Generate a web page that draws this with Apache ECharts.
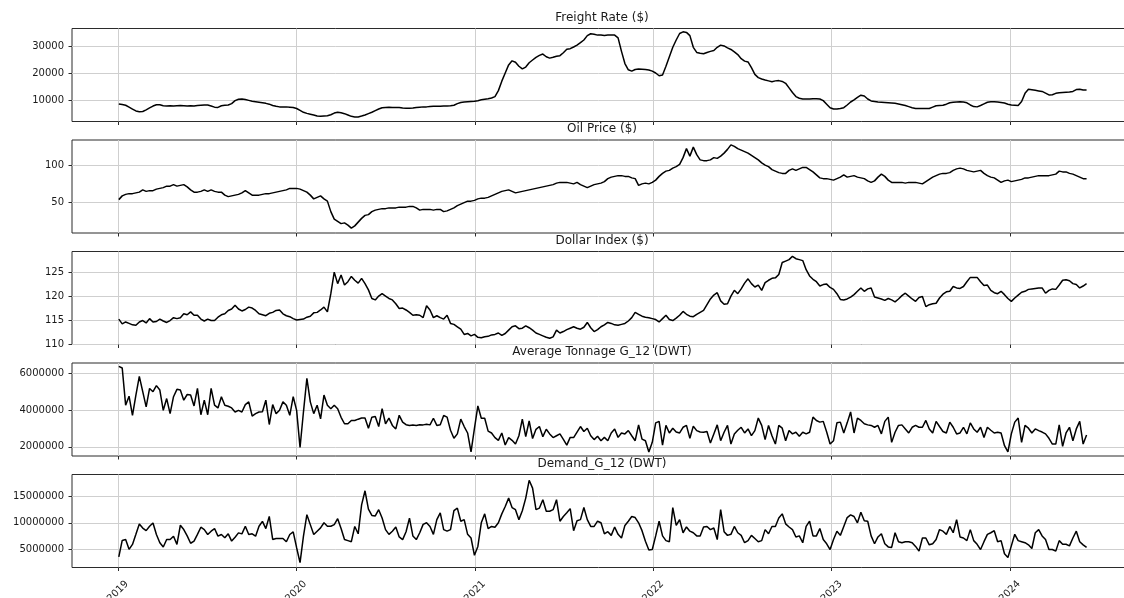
<!DOCTYPE html>
<html><head><meta charset="utf-8">
<script src="https://cdn.jsdelivr.net/npm/echarts@6/dist/echarts.min.js"></script>
<style>html,body{margin:0;padding:0;background:#fff}#c{width:1124px;height:598px}</style>
</head><body><div id="c"></div>
<script>
// weekly observations starting 2019-01-03
const START = Date.UTC(2019, 0, 3);
const WEEK = 7 * 86400000;
const N = 284;
const dates = [];
for (let i = 0; i < N; i++) dates.push(START + i * WEEK);

const titles = ['Freight Rate ($)', 'Oil Price ($)', 'Dollar Index ($)', 'Average Tonnage G_12 (DWT)', 'Demand_G_12 (DWT)'];

const freight = [8600,8400,8100,7400,6700,6000,5700,5800,6400,7100,
7800,8300,8300,7900,7800,7900,7800,7900,8000,7900,
7800,7900,7800,8000,8100,8200,8200,7800,7400,7300,
7900,8100,8200,8700,9800,10300,10400,10200,9900,9600,
9400,9200,9000,8800,8500,8000,7700,7500,7500,7500,
7400,7300,6900,6200,5500,5100,4800,4500,4100,4000,
4100,4200,4600,5200,5500,5300,5000,4500,4000,3800,
3800,4100,4500,5000,5500,6100,6700,7200,7300,7400,
7300,7300,7300,7100,7000,7000,7100,7300,7400,7500,
7500,7600,7700,7700,7700,7800,7800,7900,8100,8700,
9100,9300,9400,9500,9600,9800,10100,10300,10500,10800,
11300,13500,17000,20000,23000,24500,24000,22500,21500,22200,
23800,24800,25800,26500,27000,26000,25500,25800,26200,26400,
27500,28800,29000,29600,30300,31200,32200,33800,34500,34300,
34000,34000,33900,34000,34000,34000,33000,28000,23500,21200,
20700,21300,21500,21400,21300,21100,20700,20000,19000,19300,
22500,26000,29500,32200,34600,35200,35000,33800,29500,27600,
27300,27100,27600,28000,28300,29500,30300,30000,29300,28700,
27800,26800,25300,24400,24100,22000,19500,18300,17800,17400,
17100,16800,17100,17200,16900,16200,14500,12800,11300,10700,
10400,10400,10400,10500,10500,10400,9800,8500,7200,6700,
6700,6900,7200,8200,9300,10100,11000,11800,11500,10400,
9700,9500,9300,9200,9100,9000,8900,8800,8600,8300,
8000,7600,7200,6900,6900,6900,6900,6900,7400,7900,
8000,8100,8500,9000,9200,9300,9400,9300,9000,8200,
7600,7500,8000,8600,9200,9400,9400,9300,9100,8900,
8500,8200,8100,8000,9500,12500,14000,13800,13600,13400,
13200,12600,11900,12000,12500,12700,12800,12900,13000,13200,
13900,14000,13700,13700];

const oil = [54,59,61,62,62,63,64,67,65,66,
66,68,69,70,72,72,74,72,73,74,
71,67,64,64,65,67,65,67,65,64,
64,60,58,59,60,61,63,66,63,60,
60,60,61,62,62,63,64,65,66,67,
69,69,69,68,66,64,60,55,57,59,
55,52,38,28,25,22,23,20,16,19,
24,29,33,34,38,40,41,42,42,43,
43,43,44,44,44,45,45,43,40,41,
41,41,40,41,41,38,39,41,43,46,
48,50,52,52,53,55,56,56,57,59,
61,63,65,66,67,65,63,64,65,66,
67,68,69,70,71,72,73,74,76,77,
77,77,76,75,77,74,72,70,72,74,
75,76,78,82,84,85,86,86,85,85,
83,82,73,75,76,75,77,80,85,89,
92,93,96,98,101,110,122,112,124,114,
107,106,106,107,110,109,112,116,121,127,
125,122,120,118,116,113,110,107,103,100,
98,94,92,90,89,89,93,95,93,95,
97,97,94,91,87,83,82,82,81,80,
82,84,87,84,85,86,84,83,82,79,
77,79,84,88,85,80,77,77,77,77,
76,77,77,77,76,75,78,81,84,86,
88,89,89,90,93,95,96,95,93,92,
91,92,93,89,86,84,83,80,77,79,
80,78,79,80,81,83,83,84,85,86,
86,86,86,87,88,92,91,91,89,88,
86,84,82,82];

const dollar = [115.2,114.2,114.6,114.3,114.0,113.9,114.6,114.9,114.4,115.3,
114.6,114.7,115.2,114.8,114.5,114.9,115.5,115.3,115.5,116.3,
116.1,116.7,116.0,116.0,115.2,114.8,115.2,114.9,114.9,115.6,
116.1,116.3,117.0,117.3,118.1,117.3,116.9,117.2,117.7,117.5,
117.0,116.3,116.1,115.9,116.4,116.6,117.0,117.1,116.3,115.9,
115.7,115.3,115.0,115.1,115.2,115.6,115.8,116.5,116.6,117.1,
117.7,116.7,120.5,125.0,122.6,124.4,122.3,123.0,124.1,123.3,
122.7,123.7,122.6,121.3,119.5,119.2,120.0,120.5,120.0,119.5,
119.2,118.4,117.4,117.5,117.1,116.6,116.0,116.1,116.0,115.5,
118.0,117.1,115.5,115.9,115.5,115.2,116.0,114.3,114.1,113.6,
113.1,112.0,112.2,111.7,112.0,111.4,111.3,111.5,111.6,111.9,
112.0,112.3,111.8,112.2,112.9,113.6,113.8,113.2,113.3,113.8,
113.4,112.9,112.3,112.0,111.7,111.4,111.2,111.5,112.9,112.3,
112.6,113.0,113.3,113.6,113.3,113.1,113.5,114.5,113.4,112.6,
113.0,113.6,114.0,114.5,114.3,114.0,113.9,114.1,114.3,114.8,
115.5,116.6,116.2,115.8,115.6,115.5,115.3,115.1,114.6,115.3,
116.0,115.1,114.9,115.4,116.0,116.8,116.2,115.8,115.7,116.2,
116.6,117.0,118.2,119.4,120.2,120.7,119.0,118.3,118.4,120.0,
121.2,120.5,121.5,122.7,123.6,122.6,121.9,122.3,121.2,122.8,
123.3,123.7,123.8,124.5,127.0,127.3,127.6,128.3,127.8,127.6,
127.4,125.5,124.2,123.5,123.0,122.1,122.4,122.5,121.8,121.4,
120.5,119.3,119.2,119.4,119.8,120.3,121.0,121.7,121.0,121.5,
121.7,119.8,119.6,119.4,119.1,119.5,119.2,118.8,119.4,120.1,
120.6,120.0,119.4,118.9,119.7,119.9,117.8,118.2,118.4,118.5,
119.6,120.4,120.9,121.0,122.0,121.7,121.6,122.0,123.0,123.9,
123.9,123.9,123.0,122.2,122.3,121.2,120.7,120.5,121.0,120.3,
119.5,118.9,119.6,120.2,120.8,121.0,121.4,121.5,121.6,121.7,
121.7,120.6,121.2,121.5,121.4,122.3,123.3,123.4,123.2,122.6,
122.4,121.7,122.1,122.6];

const tonnage = [6.37e6,6.28e6,4.26e6,4.75e6,3.71e6,4.8e6,5.82e6,5.0e6,4.17e6,5.17e6,
4.99e6,5.32e6,5.08e6,3.98e6,4.62e6,3.8e6,4.72e6,5.12e6,5.08e6,4.53e6,
4.84e6,4.81e6,4.22e6,5.17e6,3.74e6,4.53e6,3.74e6,5.17e6,4.26e6,4.11e6,
4.72e6,4.26e6,4.2e6,4.11e6,3.89e6,3.98e6,3.89e6,4.29e6,4.44e6,3.67e6,
3.8e6,3.89e6,3.9e6,4.53e6,3.21e6,4.29e6,3.8e6,3.98e6,4.44e6,4.26e6,
3.71e6,4.72e6,3.98e6,1.96e6,3.9e6,5.72e6,4.44e6,3.8e6,4.26e6,3.52e6,
4.81e6,4.26e6,4.07e6,4.26e6,4.07e6,3.6e6,3.25e6,3.25e6,3.43e6,3.43e6,
3.5e6,3.56e6,3.56e6,3.01e6,3.61e6,3.65e6,3.1e6,4.07e6,3.25e6,3.56e6,
3.16e6,2.97e6,3.71e6,3.34e6,3.2e6,3.16e6,3.18e6,3.16e6,3.2e6,3.19e6,
3.22e6,3.19e6,3.55e6,3.16e6,3.2e6,3.7e6,3.61e6,2.9e6,2.46e6,2.7e6,
3.5e6,3.1e6,2.75e6,1.72e6,3.0e6,4.22e6,3.55e6,3.55e6,2.85e6,2.75e6,
2.5e6,2.35e6,2.75e6,2.1e6,2.5e6,2.35e6,2.15e6,2.6e6,3.5e6,2.55e6,
3.4e6,2.45e6,2.95e6,3.1e6,2.55e6,2.95e6,2.7e6,2.5e6,2.6e6,2.7e6,
2.4e6,2.09e6,2.51e6,2.5e6,2.8e6,3.1e6,2.83e6,3.01e6,2.6e6,2.39e6,
2.57e6,2.33e6,2.51e6,2.33e6,2.75e6,2.97e6,2.51e6,2.75e6,2.7e6,2.88e6,
2.6e6,2.33e6,3.19e6,2.42e6,2.33e6,1.72e6,2.24e6,3.3e6,3.38e6,2.09e6,
3.16e6,2.75e6,3.01e6,2.8e6,2.75e6,3.06e6,3.16e6,2.46e6,3.12e6,2.88e6,
2.8e6,2.79e6,2.83e6,2.2e6,2.7e6,3.19e6,2.33e6,2.79e6,3.16e6,2.15e6,
2.7e6,2.9e6,3.06e6,2.75e6,2.97e6,2.61e6,2.88e6,3.56e6,3.16e6,2.39e6,
3.16e6,2.6e6,2.15e6,3.16e6,3.01e6,2.33e6,2.88e6,2.7e6,2.79e6,2.57e6,
2.79e6,2.7e6,2.79e6,3.61e6,3.43e6,3.34e6,3.38e6,2.8e6,2.15e6,2.33e6,
3.3e6,3.34e6,2.75e6,3.3e6,3.89e6,2.75e6,3.56e6,3.43e6,3.25e6,3.19e6,
3.16e6,3.06e6,3.16e6,2.7e6,3.38e6,3.61e6,2.24e6,2.79e6,3.16e6,3.19e6,
2.97e6,2.75e6,3.06e6,3.16e6,3.06e6,3.06e6,3.43e6,2.97e6,2.75e6,3.38e6,
3.1e6,2.83e6,2.75e6,3.34e6,3.06e6,2.7e6,2.75e6,3.06e6,2.7e6,3.3e6,
2.97e6,2.79e6,3.06e6,2.51e6,3.06e6,2.9e6,2.75e6,2.79e6,2.75e6,2.06e6,
1.72e6,2.7e6,3.34e6,3.56e6,2.24e6,3.16e6,3.01e6,2.75e6,2.97e6,2.88e6,
2.8e6,2.7e6,2.46e6,2.15e6,2.15e6,3.19e6,2.02e6,2.75e6,3.06e6,2.33e6,
2.97e6,3.38e6,2.15e6,2.64e6];

const demand = [3.49e6,6.64e6,6.82e6,4.94e6,5.88e6,7.8e6,9.78e6,9.0e6,8.5e6,9.34e6,
9.97e6,7.77e6,6.19e6,5.38e6,6.82e6,6.82e6,7.45e6,5.88e6,9.53e6,8.71e6,
7.5e6,6.1e6,6.51e6,7.8e6,9.15e6,8.71e6,7.77e6,8.4e6,8.9e6,7.45e6,
7.77e6,7.14e6,7.89e6,6.51e6,7.26e6,8.08e6,7.89e6,9.34e6,7.77e6,7.89e6,
7.45e6,9.34e6,10.28e6,8.9e6,11.23e6,6.82e6,7.01e6,7.01e6,7.01e6,6.38e6,
7.77e6,8.27e6,5.25e6,2.42e6,7.45e6,11.54e6,9.65e6,7.77e6,8.4e6,9.03e6,
10.0e6,9.34e6,9.34e6,9.65e6,10.79e6,8.9e6,6.8e6,6.6e6,6.4e6,9.3e6,
7.9e6,13.4e6,16.1e6,12.6e6,11.4e6,11.3e6,12.5e6,10.9e6,8.7e6,7.8e6,
8.4e6,9.2e6,7.3e6,6.8e6,8.3e6,10.9e6,7.5e6,6.8e6,8.1e6,9.7e6,
10.0e6,9.3e6,7.8e6,10.6e6,11.9e6,8.7e6,8.4e6,8.7e6,12.3e6,12.8e6,
10.3e6,10.6e6,7.8e6,7.1e6,3.8e6,5.5e6,10.0e6,11.7e6,8.9e6,9.3e6,
9.15e6,10.0e6,11.7e6,13.1e6,14.7e6,12.9e6,12.5e6,10.6e6,12.3e6,14.7e6,
18.1e6,16.6e6,12.5e6,12.8e6,14.4e6,12.2e6,12.2e6,12.5e6,14.4e6,10.3e6,
11.2e6,11.9e6,12.7e6,8.5e6,10.4e6,10.6e6,12.9e6,10.6e6,9.3e6,9.3e6,
10.3e6,10.0e6,7.9e6,8.3e6,7.6e6,9.2e6,7.8e6,7.1e6,9.5e6,10.3e6,
11.2e6,11.0e6,10.0e6,8.5e6,6.5e6,4.8e6,4.9e6,7.5e6,10.3e6,7.5e6,
6.6e6,6.4e6,12.9e6,9.5e6,10.6e6,8.1e6,9.2e6,8.4e6,8.1e6,7.5e6,
7.5e6,9.2e6,9.3e6,8.7e6,9.0e6,6.8e6,12.5e6,8.3e6,7.6e6,7.8e6,
9.3e6,8.1e6,7.6e6,6.2e6,6.6e6,7.6e6,7.0e6,6.4e6,6.6e6,8.7e6,
7.9e6,9.3e6,9.3e6,10.9e6,11.7e6,9.8e6,9.2e6,8.7e6,7.3e6,7.5e6,
6.2e6,9.3e6,10.3e6,7.5e6,7.5e6,8.9e6,6.8e6,6.0e6,4.9e6,6.8e6,
8.4e6,7.6e6,9.3e6,11.0e6,11.5e6,11.2e6,10.0e6,12.0e6,10.4e6,10.3e6,
7.5e6,6.0e6,7.3e6,7.9e6,6.0e6,5.4e6,5.3e6,8.1e6,6.4e6,6.2e6,
6.4e6,6.4e6,6.2e6,5.5e6,4.6e6,7.1e6,7.1e6,5.8e6,6.0e6,6.8e6,
8.7e6,8.4e6,7.8e6,9.3e6,8.1e6,10.6e6,7.3e6,7.1e6,6.6e6,8.7e6,
6.6e6,5.9e6,4.9e6,6.4e6,7.8e6,8.1e6,8.5e6,6.4e6,6.6e6,4.1e6,
3.4e6,5.6e6,7.8e6,6.6e6,6.4e6,6.2e6,5.8e6,5.1e6,8.1e6,8.7e6,
7.5e6,6.8e6,4.9e6,4.9e6,4.6e6,6.6e6,5.9e6,5.9e6,5.6e6,7.1e6,
8.4e6,6.4e6,5.8e6,5.3e6];

// tick values
const yearTicks = [2019, 2020, 2021, 2022, 2023, 2024].map(y => Date.UTC(y, 0, 1));
const freightTicks = [10000, 20000, 30000];
const oilTicks = [50, 100];
const dollarTicks = [110, 115, 120, 125];
const tonnageTicks = [2000000, 4000000, 6000000];
const demandTicks = [5000000, 10000000, 15000000];

const seriesValues = [freight, oil, dollar, tonnage, demand];
const yTicks = [freightTicks, oilTicks, dollarTicks, tonnageTicks, demandTicks];
const yRanges = [[2100, 36440], [9.5, 133.5], [109.9, 129.3], [1.5e6, 6.55e6], [1.48e6, 19.2e6]];

// layout
const DAY = 86400000;
const Y0 = Date.UTC(2019, 0, 1);
const XMIN = Y0 - 93.8 * DAY;
const XMAX = Y0 + 2076 * DAY;
const GRID_LEFT = 72, GRID_W = 1060, GRID_H = 93;
const tops = [28.5, 140, 251.5, 363, 474.5];
const FONT = 'DejaVu Sans';
const TXT = '#1a1a1a';
const GRIDC = '#cfcfcf';
const FRAME = '#2b2b2b';

const grids = [], xAxes = [], yAxes = [], series = [], graphics = [];
for (let k = 0; k < 5; k++) {
  grids.push({left: GRID_LEFT, top: tops[k], width: GRID_W, height: GRID_H,
    outerBoundsMode: 'none', containLabel: false,
    show: true, borderColor: FRAME, borderWidth: 1, backgroundColor: 'transparent'});
  xAxes.push({
    type: 'value', gridIndex: k, min: XMIN, max: XMAX,
    axisLine: {show: false},
    axisTick: {show: true, customValues: yearTicks, length: 3.5, lineStyle: {color: FRAME}},
    axisLabel: {show: k === 4, customValues: yearTicks,
      formatter: v => String(new Date(v).getUTCFullYear()),
      rotate: 45, align: 'center', verticalAlign: 'middle', margin: 24,
      fontFamily: FONT, fontSize: 10, color: TXT},
    splitLine: {show: true, lineStyle: {color: GRIDC, width: 1}}
  });
  yAxes.push({
    type: 'value', gridIndex: k, min: yRanges[k][0], max: yRanges[k][1],
    axisLine: {show: false},
    axisTick: {show: true, customValues: yTicks[k], length: 3.5, lineStyle: {color: FRAME}},
    axisLabel: {customValues: yTicks[k], fontFamily: FONT, fontSize: 10, color: TXT, margin: 8,
      formatter: v => String(v)},
    splitLine: {show: true, lineStyle: {color: GRIDC, width: 1}}
  });
  series.push({
    type: 'line', xAxisIndex: k, yAxisIndex: k, showSymbol: false, symbol: 'none',
    data: dates.map((d, i) => [d, seriesValues[k][i]]),
    lineStyle: {color: '#000', width: 1.5}, silent: true, animation: false
  });
  graphics.push({
    type: 'text', x: GRID_LEFT + GRID_W / 2, y: tops[k] - 11,
    style: {text: titles[k], fill: TXT, font: '12px "DejaVu Sans"', textAlign: 'center', textVerticalAlign: 'middle'}
  });
}

const chart = echarts.init(document.getElementById('c'), null, {renderer: 'canvas'});
chart.setOption({
  animation: false,
  backgroundColor: '#fff',
  grid: grids, xAxis: xAxes, yAxis: yAxes, series: series, graphic: graphics
});
</script>
</body></html>
